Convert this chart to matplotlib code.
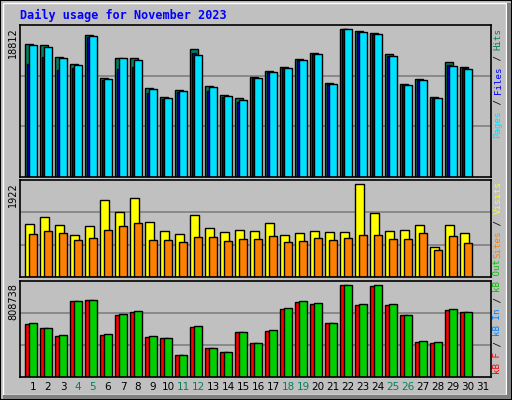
import matplotlib
matplotlib.use('Agg')
import matplotlib.pyplot as plt
from matplotlib.patches import Rectangle
import numpy as np

# ---------------------------------------------------------------------------
# data
# ---------------------------------------------------------------------------
days = list(range(1, 31))
day_labels = [str(d) for d in range(1, 32)]
weekend = [4, 5, 11, 12, 18, 19, 25, 26]

hits = [16460, 16336, 14851, 13985, 17574, 12252, 14727, 14727, 11015, 9901,
        10767, 15841, 11262, 10148, 9777, 12376, 13119, 13614, 14604, 15346,
        11633, 18317, 18069, 17821, 15222, 11510, 12128, 9901, 14232, 13614]
files = [13985, 14851, 13242, 13490, 17326, 12005, 13366, 13614, 10396, 9653,
         10520, 15346, 10643, 9901, 9282, 12252, 12995, 13490, 14480, 15222,
         11510, 18317, 17945, 17698, 14975, 11386, 12005, 9777, 13861, 13490]
pages = [16336, 16089, 14727, 13861, 17450, 12128, 14727, 14480, 10891, 9777,
         10643, 15099, 11138, 10025, 9530, 12252, 12995, 13490, 14480, 15222,
         11510, 18317, 17945, 17698, 14975, 11386, 12005, 9777, 13737, 13366]
visits = [1050, 1189, 1030, 832, 1010, 1525, 1288, 1565, 1090, 911,
          852, 1228, 971, 891, 931, 911, 1070, 832, 872, 911,
          891, 891, 1842, 1268, 911, 931, 1030, 594, 1030, 872]
sites = [852, 911, 872, 733, 773, 931, 1010, 1070, 733, 733,
         693, 792, 792, 713, 753, 753, 812, 693, 713, 773,
         733, 773, 832, 832, 753, 753, 872, 535, 812, 674]
kb_f = [447152, 414030, 347785, 637606, 645887, 356066, 521678, 546520, 339505, 331224,
        182173, 422310, 240137, 207015, 380909, 289821, 389189, 571362, 629325, 612764,
        455433, 778376, 604484, 770096, 604484, 521678, 298102, 289821, 563081, 546520]
kb_out = [458194, 414030, 356066, 637606, 645887, 364346, 532719, 554800, 347785, 331224,
          182173, 430591, 248418, 207015, 380909, 289821, 397469, 579642, 637606, 621045,
          455433, 778376, 612764, 778376, 612764, 521678, 306382, 298102, 571362, 546520]

max_hits = 18812
max_visits = 1922
max_kb = 808738

# ---------------------------------------------------------------------------
W, H = 512, 400
BG = '#C0C0C0'
fig = plt.figure(figsize=(W / 100, H / 100), dpi=100, facecolor=BG)

# outer frame
fig.patches.append(Rectangle((0, 0), 1, 1, transform=fig.transFigure, fill=False,
                             edgecolor='black', lw=1.5))
fig.patches.append(Rectangle((3 / W, 5 / H), (W - 9) / W, (H - 8) / H,
                             transform=fig.transFigure, fill=False, edgecolor='white', lw=1))
fig.patches.append(Rectangle((3 / W, 1 / H), (W - 5) / W, 4 / H, transform=fig.transFigure,
                             facecolor='#808080', edgecolor='none'))
fig.patches.append(Rectangle((W - 6 / W * W / W * 1 - 5, 1), 1, 1, visible=False))
fig.patches.append(Rectangle(((W - 5) / W, 1 / H), 4 / W, (H - 4) / H, transform=fig.transFigure,
                             facecolor='#808080', edgecolor='none'))

fig.text(20 / W, 1 - 15 / H, 'Daily usage for November 2023', color='#0000FF',
         family='DejaVu Sans Mono', weight='bold', fontsize=8.5, va='center', ha='left')

x0, x1 = 20, 491
xlim = ((x0 - 31) / 15 + 1, (x1 - 31) / 15 + 1)


def make_axes(top, bottom, ymax):
    ax = fig.add_axes([x0 / W, 1 - bottom / H, (x1 - x0) / W, (bottom - top) / H])
    ax.set_facecolor(BG)
    ax.set_xlim(*xlim)
    ax.set_ylim(0, ymax)
    ax.set_xticks([])
    ax.set_yticks([])
    for f in (1 / 3, 2 / 3):
        ax.axhline(ymax * f, color='#808080', lw=1.2, zorder=0)
    for s in ax.spines.values():
        s.set_color('black')
        s.set_linewidth(1.2)
    return ax


def bars(ax, vals, lo, hi, color):
    d = np.array(days)
    ax.bar(d + lo / 15, vals, width=(hi - lo) / 15, align='edge', color=color,
           edgecolor='black', linewidth=1, zorder=2)


ax1 = make_axes(25, 177, max_hits)
bars(ax1, hits, -6, 2, '#00805C')
bars(ax1, files, -4, 0, '#0000FF')
bars(ax1, pages, -2, 6, '#00E0FF')

ax2 = make_axes(180, 277, max_visits)
bars(ax2, visits, -6, 3, '#FFFF00')
bars(ax2, sites, -2, 6, '#FF8000')

ax3 = make_axes(281, 377, max_kb)
bars(ax3, kb_f, -6, 2, '#FF0000')
bars(ax3, kb_out, -2, 6, '#00D000')

# left max labels
for top, txt in [(25, str(max_hits)), (180, str(max_visits)), (281, str(max_kb))]:
    fig.text(13 / W, 1 - (top + 2) / H, txt, rotation=90, ha='center', va='top',
             fontsize=7, color='black')

# right side legends (multi-coloured, vertical)
CH = 5.5  # px per character


def vlabel(parts, y_start, anchor_top):
    total = sum(len(p) for p, _ in parts)
    y = y_start + total * CH if anchor_top else y_start
    for txt, col in parts:
        fig.text(498 / W, 1 - y / H, txt, rotation=90, ha='center', va='bottom',
                 color=col, family='DejaVu Sans Mono', fontsize=6.6)
        y -= len(txt) * CH


vlabel([('Pages', '#00E0FF'), (' / ', 'black'), ('Files', '#0000FF'),
        (' / ', 'black'), ('Hits', '#00805C')], 28, True)
vlabel([('Sites', '#FF8000'), (' / ', 'black'), ('Visits', '#FFFF00')], 181, True)
vlabel([('kB F', '#FF0000'), (' / ', 'black'), ('kB In', '#0080FF'),
        (' / ', 'black'), ('kB Out', '#00C000')], 374, False)

# day labels
for i, lab in enumerate(day_labels):
    d = i + 1
    fig.text((31 + 15 * i + 2) / W, 1 - 387 / H, lab, ha='center', va='center', fontsize=7.5,
             color='#00805C' if d in weekend else 'black')

fig.savefig('out.png', dpi=100, facecolor=BG)
